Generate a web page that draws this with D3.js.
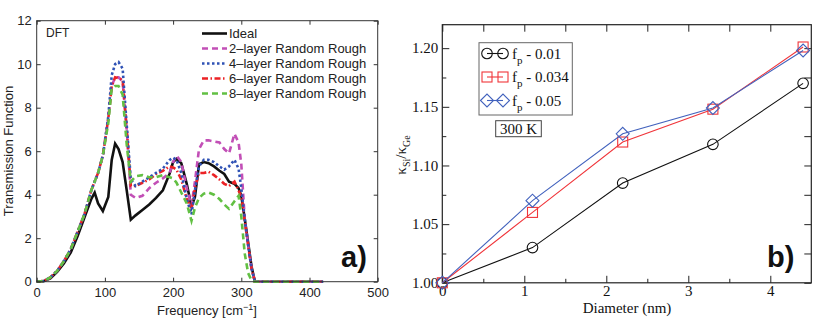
<!DOCTYPE html>
<html>
<head>
<meta charset="utf-8">
<script src="https://cdn.jsdelivr.net/npm/d3@7"></script>
<style>
  body { margin: 0; background: #fff; }
  svg { display: block; }
  .sans { font-family: "Liberation Sans", Arial, sans-serif; }
  .serif { font-family: "Liberation Serif", "Times New Roman", serif; }
</style>
</head>
<body>
<svg id="chart" width="830" height="329"></svg>
<script>
// ---- panel a) transmission function ----
const freq   = [0,10,20,30,40,50,60,70,80,85,90,97,105,110,115,120,126,132,138,145,155,165,175,185,195,200,205,212,220,227,232,238,245,252,260,268,275,282,290,296,300,305,310,315,320,330,420];
const ideal  = [0,0.02,0.15,0.45,0.85,1.35,2.1,2.95,3.8,4.1,3.6,3.25,3.9,5.6,6.35,6.1,5.5,4.2,2.85,3.05,3.3,3.55,3.85,4.2,4.98,5.5,5.65,5.45,4.5,3.45,3.9,5.4,5.5,5.45,5.3,5.1,4.95,4.6,4.5,4.3,3.95,2.9,1.8,0.7,0,0,0];
const layer2 = [0,0.03,0.2,0.5,0.95,1.5,2.3,3.1,4.2,4.6,5.0,5.8,7.5,9.0,9.4,9.4,9.2,7.0,4.0,3.85,3.95,4.3,4.55,4.75,5.0,5.5,5.8,5.5,4.3,3.5,4.6,6.1,6.5,6.5,6.45,6.4,6.1,5.9,6.8,6.4,5.4,2.9,1.7,0.6,0,0,0];
const layer4 = [0,0.03,0.2,0.5,0.95,1.5,2.3,3.1,4.2,4.6,5.0,5.8,7.6,9.5,10.0,10.1,9.8,7.2,4.7,4.4,4.6,4.8,5.0,5.2,5.6,5.7,5.6,5.0,3.8,3.1,4.2,5.3,5.6,5.6,5.5,5.3,5.15,5.3,5.6,5.2,4.3,2.9,1.7,0.6,0,0,0];
const layer6 = [0,0.03,0.2,0.5,0.95,1.5,2.3,3.1,4.2,4.6,5.0,5.8,7.5,9.0,9.4,9.35,9.3,7.0,4.4,4.4,4.55,4.7,4.95,5.1,5.3,5.25,5.15,4.7,3.8,3.35,4.3,5.0,5.0,5.05,4.9,4.7,4.5,4.4,4.6,4.2,3.9,2.8,1.7,0.6,0,0,0];
const layer8 = [0,0.03,0.2,0.5,0.95,1.5,2.3,3.1,4.2,4.6,5.0,5.8,7.3,8.9,9.0,9.0,8.6,6.3,4.6,4.85,4.9,4.8,4.8,4.9,4.8,4.75,4.55,4.1,3.6,2.8,3.4,3.85,4.05,4.1,4.0,3.8,3.55,3.35,3.7,3.95,3.0,1.3,0.4,0.05,0,0,0];
const freqTicks = [0,100,200,300,400,500];
const transTicks = [0,2,4,6,8,10,12];

// ---- panel b) conductivity ratio ----
const diameter = [0,1.1,2.2,3.3,4.4];
const fp001  = [1.0,1.03,1.085,1.118,1.17];
const fp0034 = [1.0,1.06,1.12,1.148,1.201];
const fp005  = [1.0,1.07,1.127,1.149,1.198];
const diamTicks = [0,1,2,3,4];
const ratioTicks = [1.00,1.05,1.10,1.15,1.20];

const svg = d3.select("#chart");

// =================== panel a ===================
const xa = d3.scaleLinear().domain([0,500]).range([36.7,377.7]);
const ya = d3.scaleLinear().domain([0,12]).range([281.7,20.7]);
const ga = svg.append("g").attr("class","sans");

const seriesA = [
  { name: "Ideal", vals: ideal, color: "#111", dash: null },
  { name: "2\u2013layer Random Rough", vals: layer2, color: "#c24fb6", dash: "6,4" },
  { name: "4\u2013layer Random Rough", vals: layer4, color: "#2f52b5", dash: "2.5,2.5" },
  { name: "6\u2013layer Random Rough", vals: layer6, color: "#ec2225", dash: "6,2.5,1.5,2.5" },
  { name: "8\u2013layer Random Rough", vals: layer8, color: "#62c043", dash: "6,4" }
];

const lineA = d3.line().x(d => xa(d[0])).y(d => ya(d[1]));
// green ends up on top, like the reference
const drawOrder = [0,1,3,2,4];
drawOrder.forEach(i => {
  const s = seriesA[i];
  ga.append("path")
    .datum(freq.map((f,j) => [f, s.vals[j]]))
    .attr("d", lineA)
    .attr("fill","none")
    .attr("stroke", s.color)
    .attr("stroke-width", 2.6)
    .attr("stroke-dasharray", s.dash);
});

// axes a
ga.append("rect").attr("x",xa(0)).attr("y",ya(12)).attr("width",xa(500)-xa(0)).attr("height",ya(0)-ya(12))
  .attr("fill","none").attr("stroke","#333").attr("stroke-width",1);

const axA = [
  d3.axisBottom(xa).tickValues(freqTicks).tickSizeInner(-4).tickSizeOuter(0).tickPadding(6),
  d3.axisLeft(ya).tickValues(transTicks).tickSizeInner(-4).tickSizeOuter(0).tickPadding(5),
  d3.axisTop(xa).tickValues(freqTicks).tickSizeInner(-4).tickSizeOuter(0).tickFormat(""),
  d3.axisRight(ya).tickValues(transTicks).tickSizeInner(-4).tickSizeOuter(0).tickFormat("")
];
const posA = [[0,ya(0)],[xa(0),0],[0,ya(12)],[xa(500),0]];
axA.forEach((ax,i) => {
  const g = ga.append("g").attr("transform",`translate(${posA[i][0]},${posA[i][1]})`).call(ax);
  g.select(".domain").remove();
  g.selectAll("line").attr("stroke","#333");
  g.selectAll("text").attr("font-size",13).attr("font-family","Liberation Sans, Arial, sans-serif").attr("fill","#222");
});

ga.append("text").attr("x",46).attr("y",37).attr("font-size",12).attr("fill","#222").text("DFT");

ga.append("text").attr("transform","translate(13,151) rotate(-90)")
  .attr("text-anchor","middle").attr("font-size",13).attr("fill","#222").text("Transmission Function");

const xt = ga.append("text").attr("x",207).attr("y",315).attr("text-anchor","middle").attr("font-size",13).attr("fill","#222");
xt.append("tspan").text("Frequency [cm");
xt.append("tspan").attr("dy",-5).attr("font-size",9).text("\u22121");
xt.append("tspan").attr("dy",5).text("]");

// legend a
seriesA.forEach((s,i) => {
  const yy = 33.5 + i*15;
  ga.append("line").attr("x1",202).attr("x2",227).attr("y1",yy).attr("y2",yy)
    .attr("stroke",s.color).attr("stroke-width",2.6).attr("stroke-dasharray",s.dash);
  ga.append("text").attr("x",229).attr("y",yy+4.5).attr("font-size",13).attr("fill","#222").text(s.name);
});

ga.append("text").attr("x",341).attr("y",267).attr("font-size",29).attr("font-weight","bold").attr("fill","#111").text("a)");

// =================== panel b ===================
const xb = d3.scaleLinear().domain([0,4.5]).range([442.3,811.3]);
const yb = d3.scaleLinear().domain([1.0,1.22]).range([282.8,24.7]);
const gb = svg.append("g").attr("class","serif");

gb.append("rect").attr("x",xb(0)).attr("y",yb(1.22)).attr("width",xb(4.5)-xb(0)).attr("height",yb(1.0)-yb(1.22))
  .attr("fill","none").attr("stroke","#222").attr("stroke-width",1.2);

const xMinor = d3.range(0.5,4.5,1);
const yMinor = d3.range(1.025,1.22,0.05);
const mk = (ax, vals, size, fmt) => ax.tickValues(vals).tickSizeInner(-size).tickSizeOuter(0).tickFormat(fmt);
const axB = [
  [mk(d3.axisBottom(xb), diamTicks, 7, d3.format("d")).tickPadding(3), [0,yb(1.0)]],
  [mk(d3.axisBottom(xb), xMinor, 4, ""), [0,yb(1.0)]],
  [mk(d3.axisTop(xb), diamTicks, 7, ""), [0,yb(1.22)]],
  [mk(d3.axisTop(xb), xMinor, 7, ""), [0,yb(1.22)]],
  [mk(d3.axisLeft(yb), ratioTicks, 7, d3.format(".2f")).tickPadding(4), [xb(0),0]],
  [mk(d3.axisLeft(yb), yMinor, 4, ""), [xb(0),0]],
  [mk(d3.axisRight(yb), ratioTicks, 7, ""), [xb(4.5),0]],
  [mk(d3.axisRight(yb), yMinor, 7, ""), [xb(4.5),0]]
];
axB.forEach(([ax,p]) => {
  const g = gb.append("g").attr("transform",`translate(${p[0]},${p[1]})`).call(ax);
  g.select(".domain").remove();
  g.selectAll("line").attr("stroke","#222");
  g.selectAll("text").attr("font-size",15).attr("font-family","Liberation Serif, Times New Roman, serif").attr("fill","#111");
});

const seriesB = [
  { label: "0.01", vals: fp001, color: "#111", shape: "circle" },
  { label: "0.034", vals: fp0034, color: "#f0353a", shape: "square" },
  { label: "0.05", vals: fp005, color: "#4262bd", shape: "diamond" }
];
const lineB = d3.line().x(d => xb(d[0])).y(d => yb(d[1]));

function marker(g, shape, x, y, color) {
  if (shape === "circle") {
    g.append("circle").attr("cx",x).attr("cy",y).attr("r",5.3).attr("fill","none").attr("stroke",color).attr("stroke-width",1.1);
  } else if (shape === "square") {
    g.append("rect").attr("x",x-5).attr("y",y-5).attr("width",10).attr("height",10).attr("fill","none").attr("stroke",color).attr("stroke-width",1.1);
  } else {
    g.append("path").attr("d",`M${x-6.5},${y}L${x},${y-6.5}L${x+6.5},${y}L${x},${y+6.5}Z`).attr("fill","none").attr("stroke",color).attr("stroke-width",1.1);
  }
}

seriesB.forEach(s => {
  gb.append("path").datum(diameter.map((d,i) => [d, s.vals[i]])).attr("d",lineB)
    .attr("fill","none").attr("stroke",s.color).attr("stroke-width",1.1);
  diameter.forEach((d,i) => marker(gb, s.shape, xb(d), yb(s.vals[i]), s.color));
});

// legend b
gb.append("rect").attr("x",479).attr("y",42.7).attr("width",93.3).attr("height",72.3)
  .attr("fill","#fff").attr("stroke","#666").attr("stroke-width",1);
seriesB.forEach((s,i) => {
  const yy = 53.5 + i*23.5;
  gb.append("line").attr("x1",487).attr("x2",503).attr("y1",yy).attr("y2",yy).attr("stroke",s.color).attr("stroke-width",1.1);
  marker(gb, s.shape, 487, yy, s.color);
  marker(gb, s.shape, 503, yy, s.color);
  const t = gb.append("text").attr("x",512).attr("y",yy+5).attr("font-size",15).attr("fill","#111");
  t.append("tspan").text("f");
  t.append("tspan").attr("dy",5).attr("font-size",11).text("p");
  t.append("tspan").attr("dy",-5).text(" - " + s.label);
});

gb.append("rect").attr("x",495.7).attr("y",120.7).attr("width",45.6).attr("height",16)
  .attr("fill","#fff").attr("stroke","#444").attr("stroke-width",1);
gb.append("text").attr("x",518.5).attr("y",134).attr("text-anchor","middle").attr("font-size",15).attr("fill","#111").text("300 K");

gb.append("text").attr("x",627).attr("y",313).attr("text-anchor","middle").attr("font-size",15).attr("fill","#111").text("Diameter (nm)");

const yl = gb.append("text").attr("transform","translate(406,155) rotate(-90)")
  .attr("text-anchor","middle").attr("font-size",15).attr("fill","#111");
yl.append("tspan").text("\u03ba");
yl.append("tspan").attr("dy",4).attr("font-size",10).text("Si");
yl.append("tspan").attr("dy",-4).text("/\u03ba");
yl.append("tspan").attr("dy",4).attr("font-size",10).text("Ge");

gb.append("text").attr("x",767).attr("y",267).attr("font-size",29).attr("font-weight","bold")
  .attr("font-family","Liberation Sans, Arial, sans-serif").attr("fill","#111").text("b)");
</script>
</body>
</html>
